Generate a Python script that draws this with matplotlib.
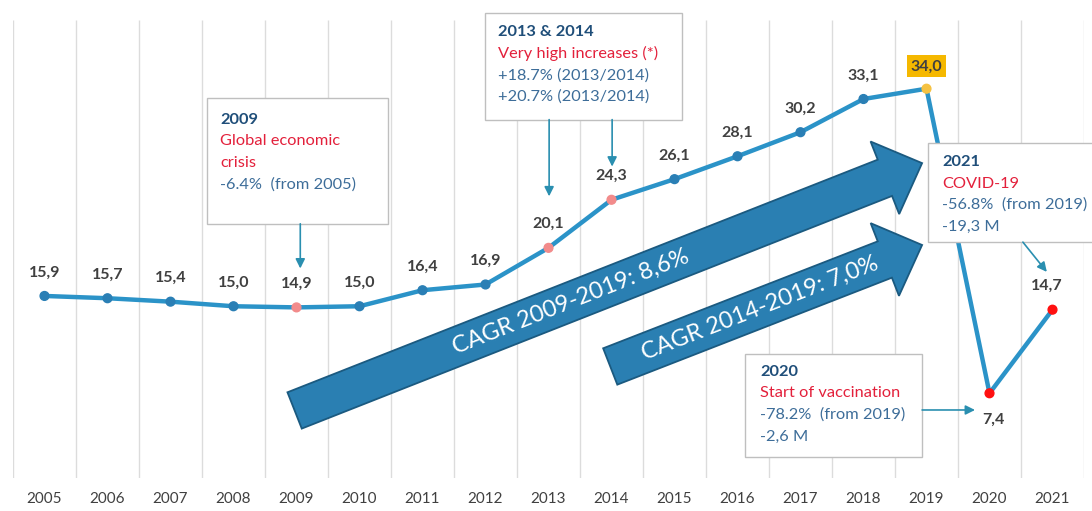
import numpy as np
import matplotlib.pyplot as plt
from matplotlib.patches import Polygon, Rectangle
from matplotlib.transforms import IdentityTransform

plt.rcParams['font.family'] = ['Lato', 'DejaVu Sans']

# data
years = ['2005', '2006', '2007', '2008', '2009', '2010', '2011', '2012', '2013',
         '2014', '2015', '2016', '2017', '2018', '2019', '2020', '2021']
values = [15.9, 15.7, 15.4, 15.0, 14.9, 15.0, 16.4, 16.9, 20.1,
          24.3, 26.1, 28.1, 30.2, 33.1, 34.0, 7.4, 14.7]
highlight_pink = ['2009', '2013', '2014']
highlight_gold = ['2019']
highlight_red = ['2020', '2021']
cagr_labels = ['CAGR 2009-2019: 8,6%', 'CAGR 2014-2019: 7,0%']

LINE = '#2b93c8'
DOT = '#2a7fb5'
ARROW_FILL = '#2a7fb2'
ARROW_EDGE = '#1b5a80'
DARK = '#1f4e79'
RED = '#e3203b'
MID = '#3d6d99'
TEAL = '#2a8fb0'

fig = plt.figure(figsize=(10.92, 5.11), dpi=100)
ax = fig.add_axes([13 / 1092, 33 / 511, 1071 / 1092, 458 / 511])
x = np.arange(len(years))
ax.set_xlim(-0.5, len(years) - 0.5)
ax.set_ylim(0, 40)
for s in ax.spines.values():
    s.set_visible(False)
ax.set_yticks([])
ax.set_xticks(x)
ax.set_xticklabels(years, fontsize=11, color='#404040')
ax.tick_params(axis='x', length=0, pad=10)
ax.vlines(np.arange(-0.5, len(years)), 0, 40, color='#dcdcdc', lw=1, zorder=0)

# main line
ax.plot(x, values, color=LINE, lw=3.2, zorder=3)
cols = []
for y in years:
    if y in highlight_pink:
        cols.append('#f28b8b')
    elif y in highlight_gold:
        cols.append('#f5c242')
    elif y in highlight_red:
        cols.append('#ff1010')
    else:
        cols.append(DOT)
ax.scatter(x, values, s=40, c=cols, edgecolors=cols, zorder=4)

# value labels
for i, v in enumerate(values):
    txt = f'{v:.1f}'.replace('.', ',')
    if years[i] == '2020':
        ax.annotate(txt, (i, v), xytext=(3, -19), textcoords='offset points',
                    ha='center', va='center', fontsize=11.5, fontweight='bold', color='#404040')
    elif years[i] == '2019':
        ax.annotate(txt, (i, v), xytext=(0, 16), textcoords='offset points',
                    ha='center', va='center', fontsize=11.5, fontweight='bold', color='#404040',
                    bbox=dict(boxstyle='square,pad=0.25', fc='#f5b800', ec='none'))
    else:
        ax.annotate(txt, (i, v), xytext=(-4 if i == 16 else 0, 17), textcoords='offset points',
                    ha='center', va='center', fontsize=11.5, fontweight='bold', color='#404040')


# big CAGR arrows, built in display pixels from data anchors
def big_arrow(tail, tip, label, frac, shaft=39, head_w=78, head_l=40):
    p0 = ax.transData.transform(tail)
    p1 = ax.transData.transform(tip)
    d = p1 - p0
    L = np.hypot(*d)
    u = d / L
    n = np.array([-u[1], u[0]])
    b = p1 - u * head_l
    pts = [p0 + n * shaft / 2, b + n * shaft / 2, b + n * head_w / 2, p1,
           b - n * head_w / 2, b - n * shaft / 2, p0 - n * shaft / 2]
    ax.add_artist(Polygon(pts, closed=True, fc=ARROW_FILL, ec=ARROW_EDGE, lw=1.3,
                          transform=IdentityTransform(), zorder=2))
    c = p0 + d * frac
    ang = np.degrees(np.arctan2(d[1], d[0]))
    ax.text(c[0], c[1], label, transform=IdentityTransform(), rotation=ang,
            rotation_mode='anchor', ha='center', va='center', color='white',
            fontsize=17, zorder=2.5)


big_arrow((3.97, 5.9), (13.93, 27.5), cagr_labels[0], 0.44)
big_arrow((8.98, 9.74), (13.93, 20.35), cagr_labels[1], 0.48)


# annotation boxes
def note(x0, x1, y0, y1, tx, ty, lines):
    ax.add_patch(Rectangle((x0, y1), x1 - x0, y0 - y1, fc='white', ec='#bfbfbf',
                           lw=1, zorder=5, clip_on=False))
    for k, (s, c, w) in enumerate(lines):
        ax.text(tx, ty - k * 1.88, s, color=c, fontweight=w, fontsize=11.8,
                ha='left', va='center', zorder=6, clip_on=False)


def small_arrow(a, b):
    ax.annotate('', xy=b, xytext=a, zorder=6, annotation_clip=False,
                arrowprops=dict(arrowstyle='-|>', color=TEAL, lw=1.2, mutation_scale=14,
                                shrinkA=0, shrinkB=0))


note(2.58, 5.45, 33.2, 22.2, 2.79, 31.3,
     [('2009', DARK, 'bold'), ('Global economic', RED, 'normal'),
      ('crisis', RED, 'normal'), ('-6.4%  (from 2005)', MID, 'normal')])
small_arrow((4.06, 22.2), (4.06, 18.3))

note(6.99, 10.12, 40.6, 31.3, 7.2, 38.95,
     [('2013 & 2014', DARK, 'bold'), ('Very high increases (*)', RED, 'normal'),
      ('+18.7% (2013/2014)', MID, 'normal'), ('+20.7% (2013/2014)', MID, 'normal')])
small_arrow((8.01, 31.3), (8.01, 24.6))
small_arrow((9.01, 31.3), (9.01, 27.2))

note(14.02, 17.2, 29.26, 20.61, 14.25, 27.6,
     [('2021', DARK, 'bold'), ('COVID-19', RED, 'normal'),
      ('-56.8%  (from 2019)', MID, 'normal'), ('-19,3 M', MID, 'normal')])
small_arrow((15.53, 20.6), (15.91, 18.0))

note(11.12, 13.93, 10.83, 1.83, 11.36, 9.26,
     [('2020', DARK, 'bold'), ('Start of vaccination', RED, 'normal'),
      ('-78.2%  (from 2019)', MID, 'normal'), ('-2,6 M', MID, 'normal')])
small_arrow((13.93, 5.94), (14.77, 5.94))

fig.savefig('out.png', dpi=100)
